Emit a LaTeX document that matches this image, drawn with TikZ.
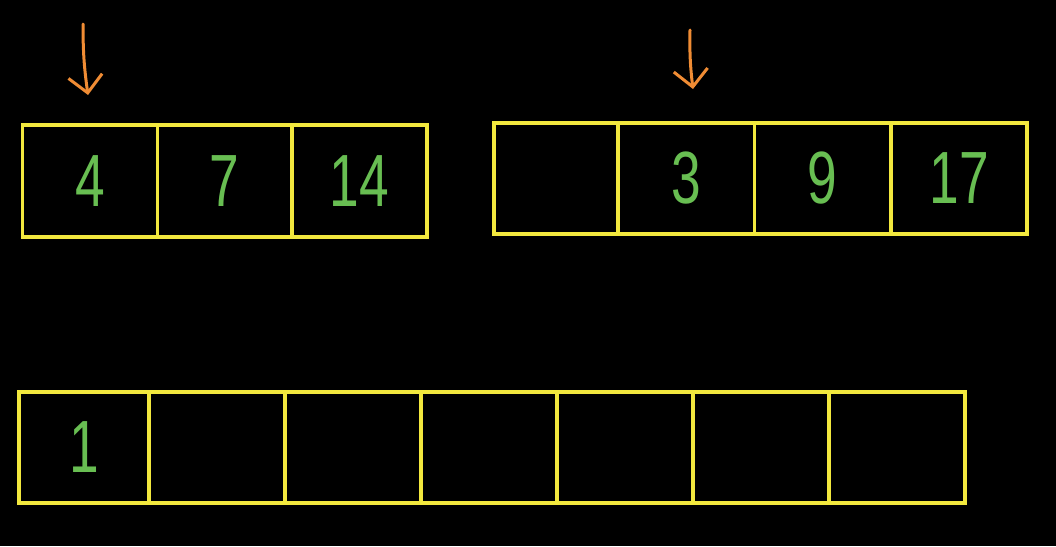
\documentclass[tikz,border=0pt]{standalone}
\usepackage{fontspec}
\newfontfamily\chalkfont[FakeStretch=0.72]{Liberation Sans}
\usetikzlibrary{positioning,arrows.meta}
\definecolor{boardyellow}{RGB}{242,232,62}
\definecolor{chalkgreen}{RGB}{104,190,82}
\definecolor{chalkorange}{RGB}{240,140,52}

\begin{document}
\begin{tikzpicture}[
    x=1pt, y=-1pt,
    node distance=0pt,
    cell/.style={rectangle, draw=boardyellow, line width=3.5pt, minimum width=134.7pt, minimum height=112pt, outer sep=0pt, inner sep=0pt, text=chalkgreen, font=\chalkfont\fontsize{74}{74}\selectfont},
    rcell/.style={cell, minimum width=136.4pt, minimum height=111pt},
    bcell/.style={cell, minimum width=136pt, minimum height=111pt},
    pointer/.style={-{Straight Barb[length=17pt,width=34pt,line width=3pt]}, draw=chalkorange, line width=3pt, line cap=round}
]
% Background
\fill[black] (0,0) rectangle (1056,546);
\useasboundingbox (0,0) rectangle (1056,546);

% Left array
\node[cell] (a1) at (90,181) {4};
\node[cell, right=of a1] (a2) {7};
\node[cell, right=of a2] (a3) {14};

% Right array
\node[rcell, minimum width=124pt] (b1) at (556,178.5) {};
\node[rcell, right=of b1] (b2) {3};
\node[rcell, right=of b2] (b3) {9};
\node[rcell, right=of b3] (b4) {17};

% Merged array
\node[bcell, minimum width=130pt] (c1) at (84,447.5) {1};
\foreach \i [count=\j from 2] in {1,...,6}
    \node[bcell, right=of c\i] (c\j) {};

% Pointers
\coordinate (ptrAtop) at (83,24);
\coordinate (ptrAtip) at (88,95);
\coordinate (ptrBtop) at (690,30);
\coordinate (ptrBtip) at (693,89);
\draw[pointer] (ptrAtop) to[bend right=4] (ptrAtip);
\draw[pointer] (ptrBtop) to[bend right=4] (ptrBtip);

\end{tikzpicture}
\end{document}
